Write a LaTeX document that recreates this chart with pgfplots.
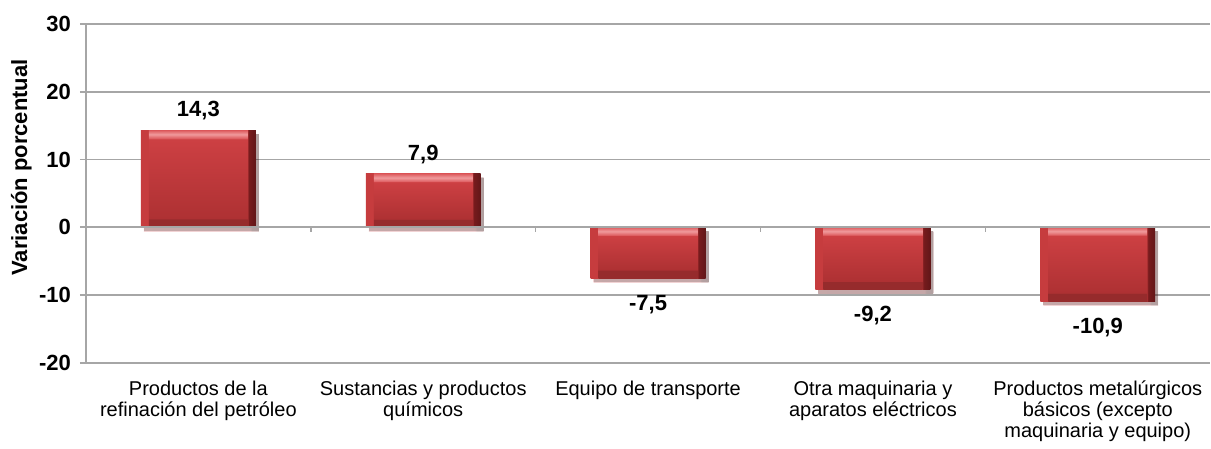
\documentclass[border=0pt]{standalone}
\usepackage{fontspec}
\setmainfont{Liberation Sans}
\usepackage{pgfplots}
\pgfplotsset{compat=1.18}
\usetikzlibrary{shadows}
\definecolor{gridgray}{HTML}{A6A6A6}
\definecolor{bartop}{HTML}{CD4043}
\definecolor{barbot}{HTML}{AE3133}
\definecolor{barmid}{HTML}{BE383A}
\definecolor{bevtop}{HTML}{DD5C5F}
\definecolor{bevtophi}{HTML}{F09A9C}
\definecolor{bevleft}{HTML}{C63C3E}
\definecolor{bevright}{HTML}{7A1C1E}
\definecolor{bevbot}{HTML}{962B2C}
\pgfdeclarehorizontalshading{barsides}{100bp}{color(0bp)=(bevleft); color(25bp)=(bevleft); color(28.4bp)=(bevleft); color(28.6bp)=(barmid); color(71.4bp)=(barmid); color(71.6bp)=(bevright); color(75bp)=(bevright!80!black); color(100bp)=(bevright!80!black)}
\newcommand\mkface[2]{%
  \pgfmathsetmacro\lo{25+#2}\pgfmathsetmacro\loo{25.2+#2}%
  \pgfmathsetmacro\hi{75-#2}\pgfmathsetmacro\hii{74.8-#2}\pgfmathsetmacro\hm{75-#2/2}%
  \edef\tmp{\noexpand\pgfdeclareverticalshading{#1}{100bp}{color(0bp)=(bevbot); color(25bp)=(bevbot); color(\lo bp)=(bevbot); color(\loo bp)=(barbot); color(\hii bp)=(bartop); color(\hi bp)=(bevtop); color(\hm bp)=(bevtophi); color(75bp)=(bevtop); color(100bp)=(bevtop)}}\tmp}
\mkface{faceA}{4.1}
\mkface{faceB}{7.5}
\mkface{faceC}{7.9}
\mkface{faceD}{6.4}
\mkface{faceE}{5.4}
\newcommand\onebar[3]{%
  \addplot[draw=none, shading=barsides, bar width=57.5pt,
    drop shadow={shadow xshift=1.5pt, shadow yshift=-2pt, opacity=0.22, fill=black}]
    coordinates {(#1,#2)};
  \addplot[draw=none, shading=#3, bar width=49.5pt, nodes near coords,
    every node near coord/.append style={yshift={ifthenelse(\rawy>0,1.5,-5)}}]
    coordinates {(#1,#2)};
}
\begin{document}
\begin{tikzpicture}
\begin{axis}[
  scale only axis,
  width=562.5pt, height=169.5pt,
  at={(0,0)}, anchor=south west,
  xmin=-0.5, xmax=4.5,
  ymin=-20, ymax=30,
  ytick={-20,-10,0,10,20,30},
  xtick={0,1,2,3,4},
  xticklabels={{Productos de la\\refinación del petróleo},{Sustancias y productos\\químicos},{Equipo de transporte},{Otra maquinaria y\\aparatos eléctricos},{Productos metalúrgicos\\básicos (excepto\\maquinaria y equipo)}},
  xticklabel style={align=center, font=\fontsize{10}{10.5}\selectfont, yshift=-2.5pt},
  yticklabel style={font=\bfseries\fontsize{11}{12}\selectfont, xshift=-1pt},
  /pgf/number format/assume math mode=true,
  axis lines=left,
  axis line style={gridgray, line width=0.8pt, -},
  x axis line style={draw=none},
  ymajorgrids,
  grid style={gridgray, line width=0.8pt},
  tick align=outside,
  x tick style={draw=none},
  y tick style={gridgray, line width=0.8pt},
  major tick length=3pt,
  ylabel={Variación porcentual},
  every axis y label/.style={at={(ticklabel cs:0.5)}, rotate=90, anchor=center, xshift=13pt, yshift=5.5pt, font=\bfseries\fontsize{11}{12}\selectfont},
  ybar, bar shift=0pt,
  visualization depends on={y \as \rawy},
  nodes near coords align={vertical},
  every node near coord/.append style={font=\bfseries\fontsize{11}{12}\selectfont, black,
     /pgf/number format/use comma, /pgf/number format/fixed, /pgf/number format/fixed zerofill, /pgf/number format/precision=1},
  clip=false,
]
\onebar{0}{14.3}{faceA}
\onebar{1}{7.9}{faceB}
\onebar{2}{-7.5}{faceC}
\onebar{3}{-9.2}{faceD}
\onebar{4}{-10.9}{faceE}
\draw[gridgray, line width=0.8pt] (axis cs:-0.5,0) -- (axis cs:4.5,0);
\pgfplotsinvokeforeach{0.5,1.5,2.5,3.5}{\draw[gridgray, line width=0.8pt] (axis cs:#1,0) -- ([yshift=-2.5pt]axis cs:#1,0);}
\end{axis}
\path[use as bounding box] (-43pt,-40.5pt) rectangle (562.5pt,181.5pt);
\end{tikzpicture}
\end{document}
